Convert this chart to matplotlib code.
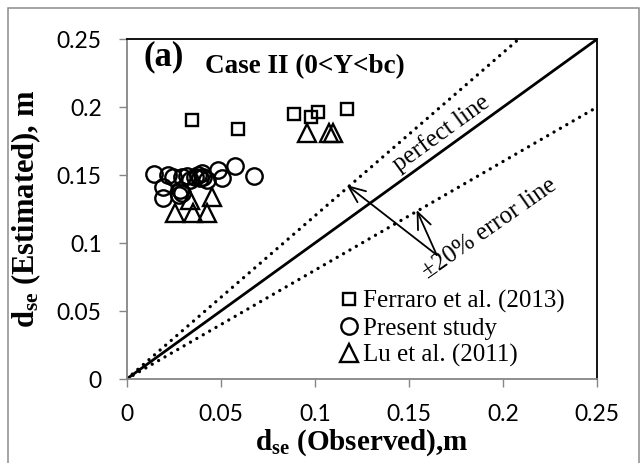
import matplotlib
matplotlib.use('Agg')
import matplotlib.pyplot as plt
from matplotlib.patches import Rectangle

plt.rcParams['mathtext.fontset'] = 'custom'
plt.rcParams['mathtext.rm'] = 'Liberation Serif'
plt.rcParams['mathtext.bf'] = 'Liberation Serif:bold'
plt.rcParams['mathtext.it'] = 'Liberation Serif:italic'

# Ferraro et al. (2013)
ferraro_obs = [0.0345, 0.0590, 0.0891, 0.0977, 0.1018, 0.1169]
ferraro_est = [0.1904, 0.1836, 0.1946, 0.1929, 0.1966, 0.1985]

# Present study
present_obs = [0.0147, 0.0221, 0.0194, 0.0194, 0.0248, 0.0292, 0.0283, 0.0279,
               0.0336, 0.0363, 0.0381, 0.0398, 0.0407, 0.0389, 0.0425, 0.0487,
               0.0505, 0.0575, 0.0676, 0.0293, 0.0320]
present_est = [0.1505, 0.1500, 0.1414, 0.1329, 0.1488, 0.1488, 0.1390, 0.1353,
               0.1463, 0.1488, 0.1500, 0.1512, 0.1483, 0.1476, 0.1463, 0.1537,
               0.1476, 0.1566, 0.1493, 0.1365, 0.1490]

# Lu et al. (2011)
lu_obs = [0.0959, 0.1076, 0.1094, 0.0257, 0.0354, 0.0425, 0.0452, 0.0336]
lu_est = [0.1810, 0.1810, 0.1810, 0.1218, 0.1218, 0.1218, 0.1340, 0.1316]

ticks = [0, 0.05, 0.1, 0.15, 0.2, 0.25]
tick_labels = ['0', '0.05', '0.1', '0.15', '0.2', '0.25']
line_x = [0, 0.25]
err = 0.2

W, H = 641, 463
fig = plt.figure(figsize=(W / 100, H / 100), dpi=100)
ax = fig.add_axes([126.7 / W, (H - 379) / H, 470.6 / W, 340 / H])

# outer frame around the chart area
fig.patches.append(Rectangle((7.5 / W, -0.05), (639 - 7.5) / W, 1.05 - 7.5 / H,
                             transform=fig.transFigure, fill=False,
                             edgecolor='#8c8c8c', linewidth=1.1))

ax.plot(line_x, line_x, color='black', lw=2.0, zorder=2)
dots = dict(color='black', lw=2.4, linestyle=(0, (0.01, 2.2)),
            dash_capstyle='round', zorder=2)
ax.plot(line_x, [(1 + err) * v for v in line_x], **dots)
ax.plot(line_x, [(1 - err) * v for v in line_x], **dots)

mk = dict(linestyle='none', markerfacecolor='none', markeredgecolor='black',
          markeredgewidth=1.7, zorder=3)
ax.plot(ferraro_obs, ferraro_est, marker='s', markersize=8.8,
        label='Ferraro et al. (2013)', **mk)
ax.plot(present_obs, present_est, marker='o', markersize=11.8,
        label='Present study', **mk)
ax.plot(lu_obs, lu_est, marker='^', markersize=12.4,
        label='Lu et al. (2011)', **mk)

ax.set_xlim(0, 0.25)
ax.set_ylim(0, 0.25)
ax.set_xticks(ticks)
ax.set_yticks(ticks)
ax.set_xticklabels(tick_labels, fontfamily='Lato', fontsize=16.5)
ax.set_yticklabels(tick_labels, fontfamily='Lato', fontsize=16.5)
ax.tick_params(direction='out', length=6, width=1, color='#868686', pad=12)
ax.tick_params(axis='x', pad=12)

for side in ['left', 'bottom']:
    ax.spines[side].set_color('#868686')
    ax.spines[side].set_linewidth(1.3)
for side in ['top', 'right']:
    ax.spines[side].set_color('black')
    ax.spines[side].set_linewidth(1.3)

ax.set_xlabel(r'$\mathbf{d}_{\mathbf{se}}$ (Observed),m', fontfamily='Liberation Serif',
              fontweight='bold', fontsize=21)
ax.xaxis.set_label_coords(0.5, -0.142)
ax.set_ylabel(r'$\mathbf{d}_{\mathbf{se}}$ (Estimated), m', fontfamily='Liberation Serif',
              fontweight='bold', fontsize=22)
ax.yaxis.set_label_coords(-0.178, 0.5)

ax.text(0.0198, 0.2368, '(a)', fontfamily='Liberation Serif', fontweight='bold',
        fontsize=25, ha='center', va='center')
ax.text(0.0418, 0.2295, 'Case II (0<Y<bc)', fontfamily='Liberation Serif',
        fontweight='bold', fontsize=19.5, ha='left', va='center')

ax.text(0.1672, 0.1807, 'perfect line', fontfamily='Liberation Serif', fontsize=18,
        rotation=36, ha='center', va='center', rotation_mode='anchor')
ax.text(0.1927, 0.1108, '±20% error line', fontfamily='Liberation Serif', fontsize=18,
        rotation=35, ha='center', va='center', rotation_mode='anchor')

arrow = dict(arrowstyle='->,head_length=0.6,head_width=0.25', color='black',
             lw=1.3, mutation_scale=20, shrinkA=0, shrinkB=0)
ax.annotate('', xy=(0.1169, 0.1426), xytext=(0.1647, 0.0912), arrowprops=arrow)
ax.annotate('', xy=(0.1540, 0.1243), xytext=(0.1647, 0.0912), arrowprops=arrow)

leg = ax.legend(loc='upper left', bbox_to_anchor=(0.451, 0.262), frameon=False,
                borderpad=0, handlelength=0.8, handletextpad=0.16,
                labelspacing=0.17, borderaxespad=0,
                prop={'family': 'Liberation Serif', 'size': 18})

fig.savefig('out.png', dpi=100)
